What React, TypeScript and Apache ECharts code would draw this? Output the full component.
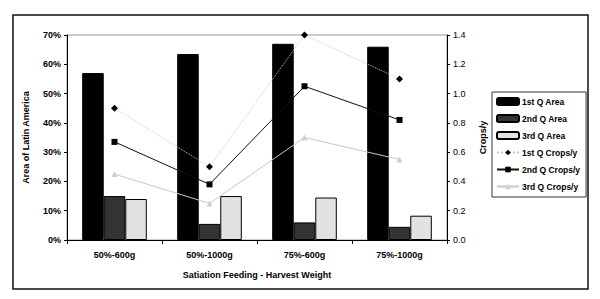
import React, { useEffect, useRef } from "react";
import * as echarts from "echarts";

const categories = ["50%-600g", "50%-1000g", "75%-600g", "75%-1000g"];
const area1 = [57, 63.5, 67, 66];
const area2 = [15, 5.5, 6, 4.5];
const area3 = [14, 15, 14.5, 8.3];
const crops1 = [0.9, 0.5, 1.4, 1.1];
const crops2 = [0.67, 0.38, 1.05, 0.82];
const crops3 = [0.45, 0.25, 0.7, 0.55];
const leftTicks = { min: 0, max: 70, interval: 10 };
const rightTicks = { min: 0, max: 1.4, interval: 0.2 };

const FONT = "Liberation Sans";

export default function App() {
  const ref = useRef<HTMLDivElement>(null);
  useEffect(() => {
    if (!ref.current) return;
    const chart = echarts.init(ref.current, undefined, { renderer: "svg" });
    const txt = { fontFamily: FONT, fontWeight: "bold" as const, fontSize: 9, color: "#000" };
    chart.setOption({
      animation: false,
      backgroundColor: "#fff",
      textStyle: { fontFamily: FONT },
      graphic: [
        {
          type: "rect",
          shape: { x: 13, y: 15, width: 575, height: 274 },
          style: { fill: "none", stroke: "#111", lineWidth: 1.5 },
          silent: true,
          z: -1,
        },
      ],
      grid: {
        left: 67,
        top: 35,
        width: 380,
        height: 205,
        show: true,
        borderColor: "#999",
        borderWidth: 1,
        backgroundColor: "transparent",
      },
      legend: {
        orient: "vertical",
        left: 492,
        top: 92,
        padding: [5, 6, 6, 4],
        itemWidth: 22,
        itemHeight: 7,
        itemGap: 8,
        borderColor: "#333",
        borderWidth: 1,
        textStyle: { ...txt, fontSize: 8.5, padding: [0, 0, 0, -2] },
        data: [
          "1st Q Area",
          "2nd Q Area",
          "3rd Q Area",
          "1st Q Crops/y",
          "2nd Q Crops/y",
          "3rd Q Crops/y",
        ],
      },
      xAxis: {
        type: "category",
        data: categories,
        name: "Satiation Feeding - Harvest Weight",
        nameLocation: "middle",
        nameGap: 30,
        nameTextStyle: { ...txt },
        axisLine: { lineStyle: { color: "#000", width: 1 } },
        axisTick: { show: true, length: 4, lineStyle: { color: "#000" } },
        axisLabel: { ...txt, margin: 10 },
      },
      yAxis: [
        {
          type: "value",
          ...leftTicks,
          position: "left",
          name: "Area of Latin America",
          nameLocation: "middle",
          nameGap: 37,
          nameTextStyle: { ...txt },
          axisLine: { show: true, lineStyle: { color: "#000" } },
          axisTick: { show: true, length: 3, lineStyle: { color: "#000" } },
          axisLabel: { ...txt, formatter: "{value}%", margin: 6 },
          splitLine: { show: false },
        },
        {
          type: "value",
          ...rightTicks,
          position: "right",
          name: "Crops/y",
          nameLocation: "middle",
          nameGap: 31,
          nameRotate: 90,
          nameTextStyle: { ...txt },
          axisLine: { show: true, lineStyle: { color: "#000" } },
          axisTick: { show: true, length: 3, lineStyle: { color: "#000" } },
          axisLabel: {
            ...txt,
            fontWeight: "normal",
            formatter: (v: number) => v.toFixed(1),
            margin: 6,
          },
          splitLine: { show: false },
        },
      ],
      series: [
        {
          name: "1st Q Area",
          type: "bar",
          data: area1,
          barGap: "0%",
          barCategoryGap: "32%",
          itemStyle: { color: "#000", borderColor: "#000", borderWidth: 1 },
        },
        {
          name: "2nd Q Area",
          type: "bar",
          data: area2,
          itemStyle: { color: "#333", borderColor: "#000", borderWidth: 1 },
        },
        {
          name: "3rd Q Area",
          type: "bar",
          data: area3,
          itemStyle: { color: "#e2e2e2", borderColor: "#000", borderWidth: 1 },
        },
        {
          name: "1st Q Crops/y",
          type: "line",
          yAxisIndex: 1,
          data: crops1,
          symbol: "diamond",
          symbolSize: 7,
          lineStyle: { color: "#c8c8c8", width: 1, type: "dotted" },
          itemStyle: { color: "#000" },
        },
        {
          name: "2nd Q Crops/y",
          type: "line",
          yAxisIndex: 1,
          data: crops2,
          symbol: "rect",
          symbolSize: 6,
          lineStyle: { color: "#111", width: 1 },
          itemStyle: { color: "#000" },
        },
        {
          name: "3rd Q Crops/y",
          type: "line",
          yAxisIndex: 1,
          data: crops3,
          symbol: "triangle",
          symbolSize: 6,
          lineStyle: { color: "#c8c8c8", width: 1 },
          itemStyle: { color: "#cfcfcf" },
        },
      ],
    });
    return () => chart.dispose();
  }, []);
  return (
    <div
      ref={ref}
      style={{ position: "fixed", left: 0, top: 0, width: 600, height: 299 }}
    />
  );
}
